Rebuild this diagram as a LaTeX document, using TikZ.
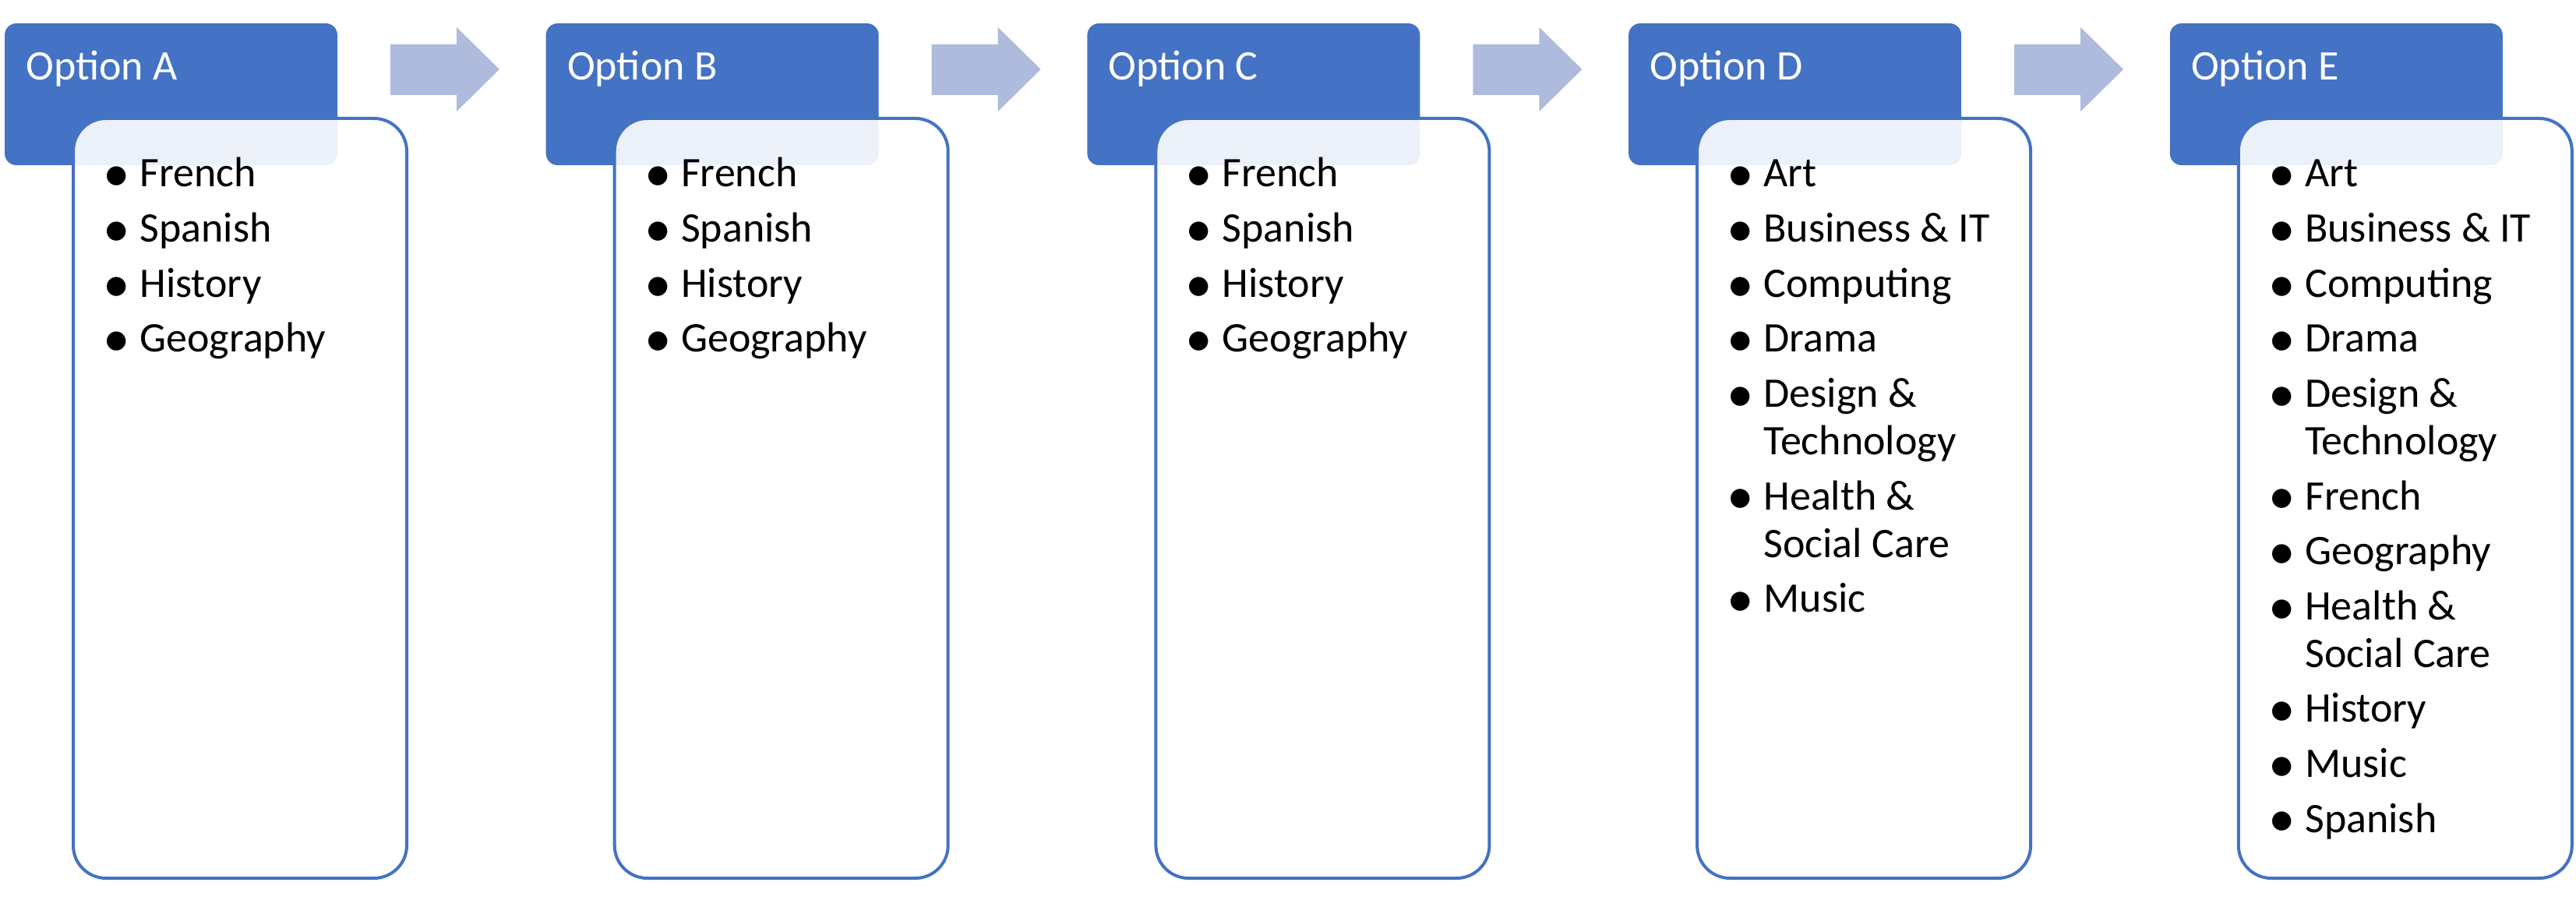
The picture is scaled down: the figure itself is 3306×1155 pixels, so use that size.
\documentclass[tikz,border=0pt]{standalone}
\usepackage{fontspec}
\setmainfont{Carlito}
\definecolor{hdr}{RGB}{68,114,196}
\definecolor{arr}{RGB}{175,187,221}
\newcommand{\bigbullet}{\raisebox{-0.11em}{\scalebox{1.28}{\textbullet}}}
\newcommand{\litem}[1]{\par\hangindent=19pt\hangafter=1\noindent\makebox[19pt][l]{\hspace{-4.5pt}\bigbullet}#1}
\newcommand{\listABC}{\litem{French}\litem{Spanish}\litem{History}\litem{Geography}}
\newcommand{\listD}{\litem{Art}\litem{Business \& IT}\litem{Computing}\litem{Drama}\litem{Design \&\newline Technology}\litem{Health \&\newline Social Care}\litem{Music}}
\newcommand{\listE}{\litem{Art}\litem{Business \& IT}\litem{Computing}\litem{Drama}\litem{Design \&\newline Technology}\litem{French}\litem{Geography}\litem{Health \&\newline Social Care}\litem{History}\litem{Music}\litem{Spanish}}
\tikzset{
  hdrbox/.style={fill=hdr, draw=none, rounded corners=7.5pt},
  bodybox/.style={draw=hdr, line width=2pt, fill=white, fill opacity=0.9, draw opacity=1, rounded corners=21pt},
  arrowshape/.style={fill=arr, draw=none},
  hdrtext/.style={text=white, font=\fontsize{27pt}{32pt}\selectfont, anchor=base west, inner sep=0pt},
  listtext/.style={text=black, font=\fontsize{27pt}{30.5pt}\selectfont, anchor=base west, inner sep=0pt}
}
\begin{document}
\begin{tikzpicture}[x=0.5pt, y=-0.5pt]
\useasboundingbox (0,0) rectangle (3306,1155);
\foreach \i/\lab/\lst in {0/A/\listABC, 1/B/\listABC, 2/C/\listABC, 3/D/\listD, 4/E/\listE}{
  \pgfmathsetmacro\gx{694.7*\i}
  \path[hdrbox] ({\gx+6},30) rectangle ({\gx+433},212);
  \node[hdrtext] (h\lab) at ({\gx+33},103) {Option \lab};
  \path[bodybox] ({\gx+94},152) rectangle ({\gx+522},1127);
  \node[listtext] (l\lab) at ({\gx+141},240) {\parbox[t]{200pt}{\raggedright\setlength{\parskip}{4.8pt}\lst}};
}
\foreach \i in {0,1,2,3}{
  \pgfmathsetmacro\gx{694.7*\i}
  \fill[arrowshape] ({\gx+501},57) -- ({\gx+586},57) -- ({\gx+586},35) -- ({\gx+641},89) -- ({\gx+586},143) -- ({\gx+586},122) -- ({\gx+501},122) -- cycle;
}
\end{tikzpicture}
\end{document}
